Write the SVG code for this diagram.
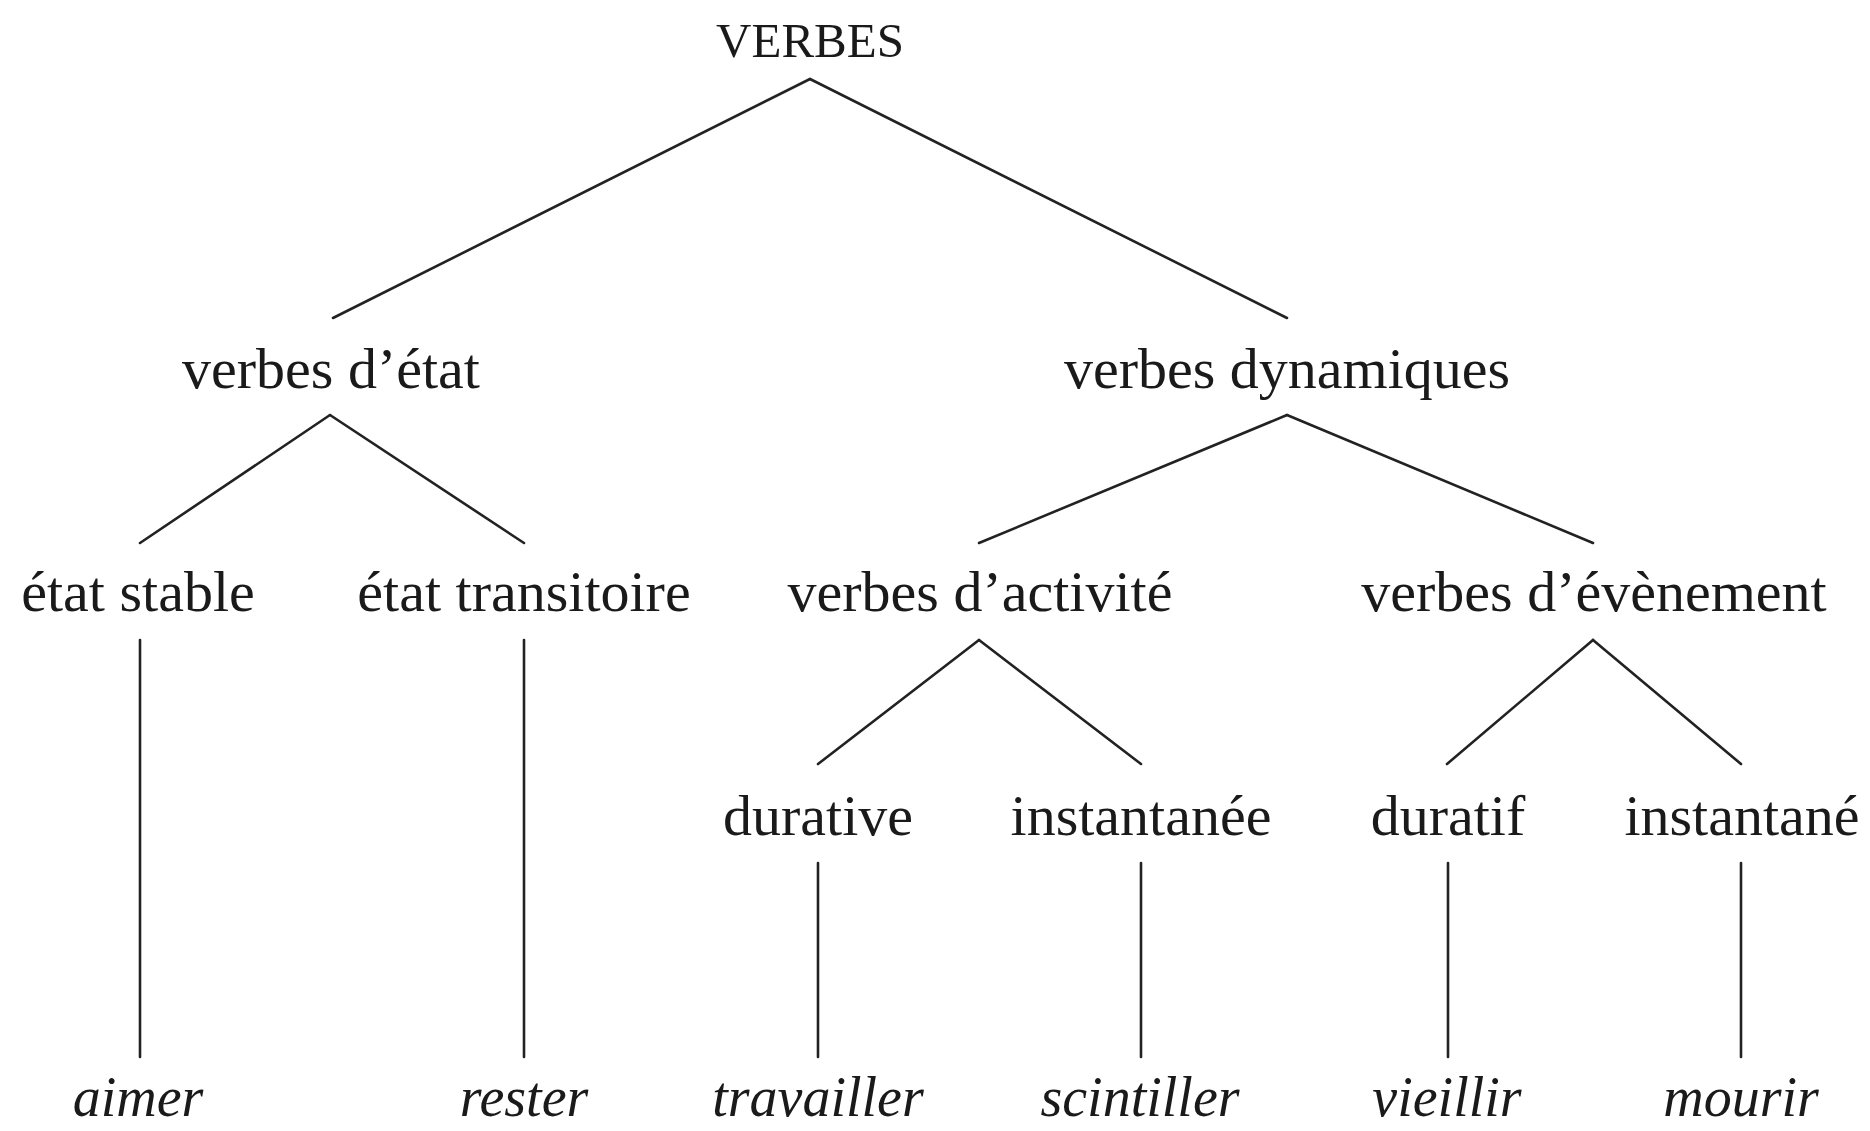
<svg xmlns="http://www.w3.org/2000/svg" width="1870" height="1131" viewBox="0 0 1870 1131">
<style>
text{font-family:"Liberation Serif","DejaVu Serif",serif;fill:#1a1a1a;text-anchor:middle;font-size:58px}
.top{font-size:49px}
.ex{font-style:italic;font-size:56px}
.c line{stroke:#222;stroke-width:2.6;stroke-linecap:round}
</style>
<rect width="1870" height="1131" fill="#fff"/>
<g class="c" id="connectors">
<line x1="810" y1="79" x2="333" y2="318"/>
<line x1="810" y1="79" x2="1287" y2="318"/>
<line x1="330" y1="415" x2="140" y2="543"/>
<line x1="330" y1="415" x2="524" y2="543"/>
<line x1="1287" y1="415" x2="979" y2="543"/>
<line x1="1287" y1="415" x2="1593" y2="543"/>
<line x1="140" y1="640" x2="140" y2="1057"/>
<line x1="524" y1="640" x2="524" y2="1057"/>
<line x1="979" y1="640" x2="818" y2="764"/>
<line x1="979" y1="640" x2="1141" y2="764"/>
<line x1="1593" y1="640" x2="1447" y2="764"/>
<line x1="1593" y1="640" x2="1741" y2="764"/>
<line x1="818" y1="863" x2="818" y2="1057"/>
<line x1="1141" y1="863" x2="1141" y2="1057"/>
<line x1="1448" y1="863" x2="1448" y2="1057"/>
<line x1="1741" y1="863" x2="1741" y2="1057"/>
</g>
<g id="n-verbes"><text class="top" x="810" y="57">VERBES</text></g>
<g id="n-etat"><text x="331" y="388">verbes d’état</text></g>
<g id="n-dyn"><text x="1287" y="388">verbes dynamiques</text></g>
<g id="n-stable"><text x="138" y="611">état stable</text></g>
<g id="n-trans"><text x="524" y="611">état transitoire</text></g>
<g id="n-act"><text x="980" y="611">verbes d’activité</text></g>
<g id="n-evt"><text x="1594" y="611">verbes d’évènement</text></g>
<g id="n-durative"><text x="818" y="835">durative</text></g>
<g id="n-instantanee"><text x="1141" y="835">instantanée</text></g>
<g id="n-duratif"><text x="1448" y="835">duratif</text></g>
<g id="n-instantane"><text x="1742" y="835">instantané</text></g>
<g id="n-aimer"><text class="ex" x="138" y="1116">aimer</text></g>
<g id="n-rester"><text class="ex" x="524" y="1116">rester</text></g>
<g id="n-travailler"><text class="ex" x="818" y="1116">travailler</text></g>
<g id="n-scintiller"><text class="ex" x="1140" y="1116">scintiller</text></g>
<g id="n-vieillir"><text class="ex" x="1447" y="1116">vieillir</text></g>
<g id="n-mourir"><text class="ex" x="1741" y="1116">mourir</text></g>
</svg>
